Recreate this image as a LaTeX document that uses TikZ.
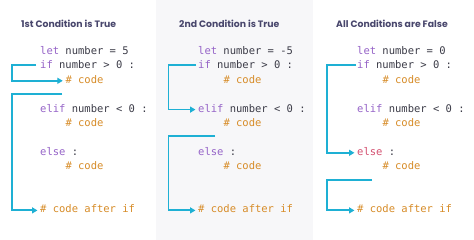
\documentclass[tikz,border=0pt]{standalone}
\usepackage{fontspec}
\setmonofont{DejaVu Sans Mono}
\newfontfamily\titlefont{Poppins}
\usetikzlibrary{arrows.meta}
\definecolor{kwc}{RGB}{150,100,200}
\definecolor{txtc}{RGB}{60,60,72}
\definecolor{cmc}{RGB}{215,140,40}
\definecolor{hlc}{RGB}{212,80,112}
\definecolor{arrc}{RGB}{30,176,212}
\definecolor{ttlc}{RGB}{72,70,108}
\definecolor{panelc}{RGB}{247,247,249}
\newcommand{\kw}[1]{\textcolor{kwc}{#1}}
\newcommand{\cm}[1]{\textcolor{cmc}{#1}}
\begin{document}
\begin{tikzpicture}[x=1pt,y=-1pt,
  codeline/.style={anchor=base west,inner sep=0pt,text height=7pt,text depth=2pt,
    font=\fontsize{10.5}{12}\selectfont\ttfamily,text=txtc},
  ttl/.style={anchor=base west,inner sep=0pt,font=\titlefont\bfseries\fontsize{9.3}{11}\selectfont,text=ttlc},
  flow/.style={draw=arrc,line width=1.8pt,-{Triangle[length=5.5pt,width=6pt]},shorten >=2.5pt}]
\useasboundingbox (0,0) rectangle (474,240);
\fill[white] (0,0) rectangle (474,240);
\fill[panelc] (156,0) rectangle (313,240);
% titles
\node[ttl] (t1) at (21,28) {1st Condition is True};
\node[ttl] (t2) at (179,28) {2nd Condition is True};
\node[ttl] (t3) at (336,28) {All Conditions are False};
% panel 1
\node[codeline] (p1l1) at (40,54.5) {\kw{let} number = 5};
\node[codeline] (p1if) at (40,68.9) {\kw{if} number > 0 :};
\node[codeline] (p1c1) at (65.3,83.3) {\cm{\# code}};
\node[codeline] (p1elif) at (40,112.1) {\kw{elif} number < 0 :};
\node[codeline] (p1c2) at (65.3,126.5) {\cm{\# code}};
\node[codeline] (p1else) at (40,155.3) {\kw{else} :};
\node[codeline] (p1c3) at (65.3,169.7) {\cm{\# code}};
\node[codeline] (p1after) at (40,212.9) {\cm{\# code after if}};
% panel 2
\node[codeline] (p2l1) at (198,54.5) {\kw{let} number = -5};
\node[codeline] (p2if) at (198,68.9) {\kw{if} number > 0 :};
\node[codeline] (p2c1) at (223.3,83.3) {\cm{\# code}};
\node[codeline] (p2elif) at (198,112.1) {\kw{elif} number < 0 :};
\node[codeline] (p2c2) at (223.3,126.5) {\cm{\# code}};
\node[codeline] (p2else) at (198,155.3) {\kw{else} :};
\node[codeline] (p2c3) at (223.3,169.7) {\cm{\# code}};
\node[codeline] (p2after) at (198,212.9) {\cm{\# code after if}};
% panel 3
\node[codeline] (p3l1) at (357,54.5) {\kw{let} number = 0};
\node[codeline] (p3if) at (357,68.9) {\kw{if} number > 0 :};
\node[codeline] (p3c1) at (382.3,83.3) {\cm{\# code}};
\node[codeline] (p3elif) at (357,112.1) {\kw{elif} number < 0 :};
\node[codeline] (p3c2) at (382.3,126.5) {\cm{\# code}};
\node[codeline] (p3else) at (357,155.3) {\textcolor{hlc}{else} :};
\node[codeline] (p3c3) at (382.3,169.7) {\cm{\# code}};
\node[codeline] (p3after) at (357,212.9) {\cm{\# code after if}};
% arrow coordinates
\coordinate (p1a) at (36,65.4);
\coordinate (p1b) at (62,94);
\coordinate (p1x) at (12,0);
\coordinate (p2a) at (196,65.4);
\coordinate (p2b) at (215,136);
\coordinate (p2x) at (168.5,0);
\coordinate (p3a) at (356,65.4);
\coordinate (p3b) at (372,180);
\coordinate (p3x) at (327,0);
% arrows
\draw[flow] (p1a) -- (p1a -| p1x) |- (p1c1.west);
\draw[flow] (p1b) -- (p1b -| p1x) |- (p1after.west);
\draw[flow] (p2a) -- (p2a -| p2x) |- (p2elif.west);
\draw[flow] (p2b) -- (p2b -| p2x) |- (p2after.west);
\draw[flow] (p3a) -- (p3a -| p3x) |- (p3else.west);
\draw[flow] (p3b) -- (p3b -| p3x) |- (p3after.west);
\end{tikzpicture}
\end{document}
